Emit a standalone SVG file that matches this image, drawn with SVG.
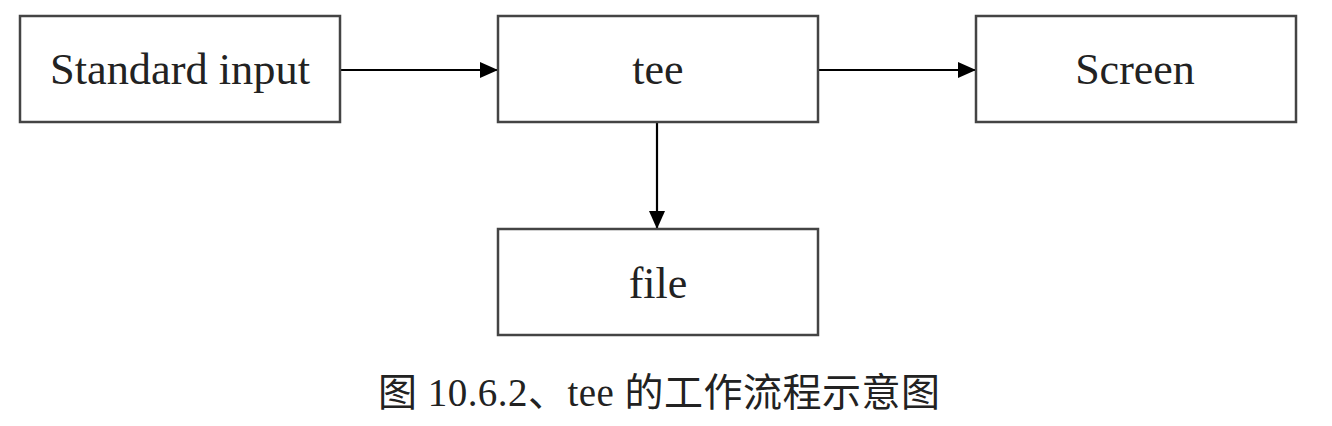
<svg xmlns="http://www.w3.org/2000/svg" width="1332" height="426" viewBox="0 0 1332 426">
<style>
.box{fill:#fff;stroke:#444;stroke-width:2.5}
.lbl{font-family:"Liberation Serif","Times New Roman",serif;font-size:44px;fill:#222;text-anchor:middle}
.cap{font-family:"Liberation Serif","Noto Sans CJK SC",serif;font-size:39px;fill:#222;text-anchor:middle}
.con{stroke:#000;stroke-width:2.2;fill:none;marker-end:url(#ah)}
</style>
<defs>
<marker id="ah" markerWidth="18" markerHeight="16" refX="18" refY="8" orient="auto" markerUnits="userSpaceOnUse" viewBox="0 0 18 16">
<path d="M0,0 L18,8 L0,16 z" fill="#000"/>
</marker>
</defs>
<rect width="1332" height="426" fill="#fff"/>
<g id="connectors">
<line class="con" x1="340" y1="70" x2="498" y2="70"/>
<line class="con" x1="818" y1="70" x2="976" y2="70"/>
<line class="con" x1="657" y1="122" x2="657" y2="229"/>
</g>
<g id="node-stdin">
<rect class="box" x="20" y="16" width="320" height="106"/>
<text class="lbl" x="180" y="84" textLength="260" lengthAdjust="spacingAndGlyphs">Standard input</text>
</g>
<g id="node-tee">
<rect class="box" x="498" y="16" width="320" height="106"/>
<text class="lbl" x="658" y="84">tee</text>
</g>
<g id="node-screen">
<rect class="box" x="976" y="16" width="320" height="106"/>
<text class="lbl" x="1135" y="84">Screen</text>
</g>
<g id="node-file">
<rect class="box" x="498" y="229" width="320" height="106"/>
<text class="lbl" x="658" y="298">file</text>
</g>
<text class="cap" x="659" y="406" textLength="562" lengthAdjust="spacing">图 10.6.2、tee 的工作流程示意图</text>
</svg>
